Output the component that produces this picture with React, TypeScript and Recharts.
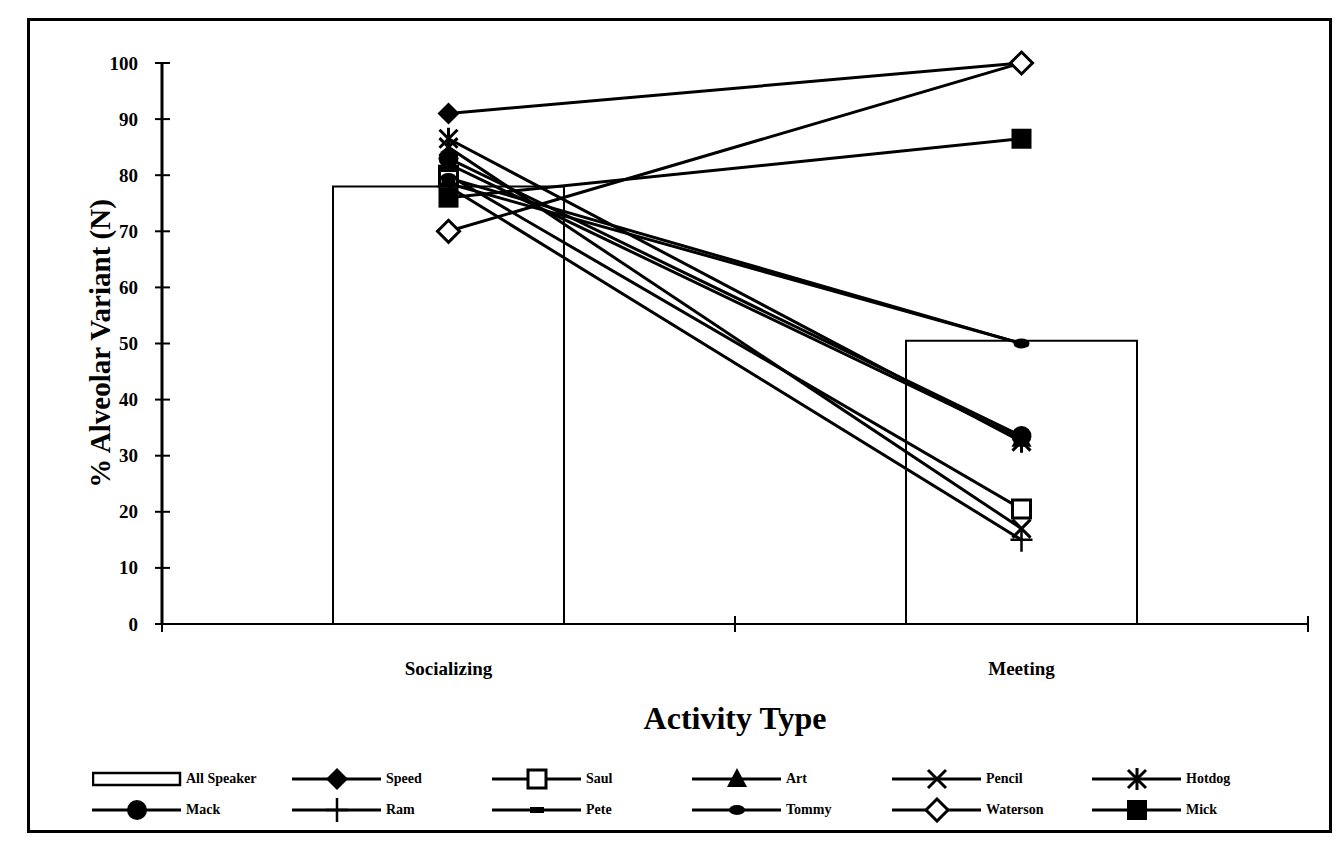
import React from "react";
import { ComposedChart, Bar, Line, XAxis, YAxis } from "recharts";

const categories = ["Socializing", "Meeting"];
const allSpeaker = [78, 50.5];

const speakers = ["Speed", "Saul", "Art", "Pencil", "Hotdog", "Mack", "Ram", "Pete", "Tommy", "Waterson", "Mick"];
const speed = [91, 100];
const saul = [80, 20.5];
const art = [82, 33];
const pencil = [85, 17];
const hotdog = [86.5, 32.5];
const mack = [83, 33.5];
const ram = [78, 15];
const pete = [78.5, 50];
const tommy = [79.5, 50];
const waterson = [70, 100];
const mick = [76, 86.5];

const yTicks = [0, 10, 20, 30, 40, 50, 60, 70, 80, 90, 100];

const seriesValues = [speed, saul, art, pencil, hotdog, mack, ram, pete, tommy, waterson, mick];
const markerKinds = [
  "diamondFilled", "squareOpen", "triangle", "x", "asterisk",
  "circle", "plus", "dash", "oval", "diamondOpen", "squareFilled",
];

const data = categories.map((c, i) => {
  const row: Record<string, any> = { category: c, allSpeaker: allSpeaker[i] };
  speakers.forEach((s, j) => (row[s] = seriesValues[j][i]));
  return row;
});

const FONT = "'Liberation Serif', 'Times New Roman', serif";
const W = 1338;
const H = 841;
const PLOT_LEFT = 162;
const PLOT_RIGHT = 1308;
const HALF_BAND = (PLOT_RIGHT - PLOT_LEFT) / categories.length / 2;

function Marker({ kind, cx, cy }: { kind: string; cx: number; cy: number }) {
  switch (kind) {
    case "diamondFilled":
      return <path d={`M${cx},${cy - 11}L${cx + 11},${cy}L${cx},${cy + 11}L${cx - 11},${cy}Z`} fill="#000" />;
    case "diamondOpen":
      return (
        <path d={`M${cx},${cy - 11}L${cx + 11},${cy}L${cx},${cy + 11}L${cx - 11},${cy}Z`}
          fill="#fff" stroke="#000" strokeWidth={3} />
      );
    case "squareOpen":
      return <rect x={cx - 9} y={cy - 9} width={18} height={18} fill="#fff" stroke="#000" strokeWidth={3} />;
    case "squareFilled":
      return <rect x={cx - 10} y={cy - 10} width={20} height={20} fill="#000" />;
    case "triangle":
      return <path d={`M${cx},${cy - 11}L${cx + 10},${cy + 8}L${cx - 10},${cy + 8}Z`} fill="#000" />;
    case "x":
      return (
        <path d={`M${cx - 9},${cy - 9}L${cx + 9},${cy + 9}M${cx + 9},${cy - 9}L${cx - 9},${cy + 9}`}
          stroke="#000" strokeWidth={3} fill="none" />
      );
    case "asterisk":
      return (
        <path
          d={`M${cx - 9},${cy - 9}L${cx + 9},${cy + 9}M${cx + 9},${cy - 9}L${cx - 9},${cy + 9}M${cx},${cy - 11}L${cx},${cy + 11}`}
          stroke="#000" strokeWidth={3} fill="none" />
      );
    case "circle":
      return <circle cx={cx} cy={cy} r={10} fill="#000" />;
    case "plus":
      return (
        <path d={`M${cx - 11},${cy}L${cx + 11},${cy}M${cx},${cy - 12}L${cx},${cy + 12}`}
          stroke="#000" strokeWidth={2.5} fill="none" />
      );
    case "dash":
      return <rect x={cx - 7} y={cy - 3} width={14} height={6} fill="#000" />;
    case "oval":
      return <ellipse cx={cx} cy={cy} rx={8} ry={5} fill="#000" />;
    default:
      return null;
  }
}

function YTick({ x, y, payload }: any) {
  return (
    <g>
      <line x1={x - 7} x2={x + 8} y1={y} y2={y} stroke="#000" strokeWidth={2} />
      <text x={x - 24} y={y} textAnchor="end" dominantBaseline="central"
        fontFamily={FONT} fontWeight="bold" fontSize={19} fill="#000">
        {payload.value}
      </text>
    </g>
  );
}

function XTick({ x, y, payload, index }: any) {
  return (
    <g>
      {index === 0 && <line x1={x - HALF_BAND} x2={x - HALF_BAND} y1={y - 8} y2={y + 8} stroke="#000" strokeWidth={2} />}
      <line x1={x + HALF_BAND} x2={x + HALF_BAND} y1={y - 8} y2={y + 8} stroke="#000" strokeWidth={2} />
      <text x={x} y={y + 44} textAnchor="middle" dominantBaseline="central"
        fontFamily={FONT} fontWeight="bold" fontSize={19} fill="#000">
        {payload.value}
      </text>
    </g>
  );
}

function LegendItem({ name, kind }: { name: string; kind: string | null }) {
  return (
    <div style={{ display: "flex", alignItems: "center", height: 31 }}>
      <svg width={90} height={26}>
        {kind === null ? (
          <rect x={1} y={7} width={87} height={12} fill="#fff" stroke="#000" strokeWidth={2.5} />
        ) : (
          <>
            <line x1={0} x2={89} y1={13} y2={13} stroke="#000" strokeWidth={3} />
            <Marker kind={kind} cx={45} cy={13} />
          </>
        )}
      </svg>
      <span style={{ fontFamily: FONT, fontWeight: "bold", fontSize: 14, marginLeft: 4, color: "#000" }}>{name}</span>
    </div>
  );
}

export default function App() {
  const legendNames = ["All Speaker", ...speakers];
  const legendKinds: (string | null)[] = [null, ...markerKinds];
  return (
    <div style={{ position: "absolute", left: 0, top: 0, width: W, height: H, background: "#fff" }}>
      <ComposedChart width={W} height={H} data={data} margin={{ top: 63, right: 30, left: 102, bottom: 177 }}>
        <XAxis
          dataKey="category"
          axisLine={{ stroke: "#000", strokeWidth: 2 }}
          tickLine={false}
          tickSize={0}
          tickMargin={0}
          interval={0}
          height={40}
          tick={<XTick />}
          label={{
            content: ({ viewBox }: any) => (
              <text x={viewBox.x + viewBox.width / 2} y={viewBox.y + 94} textAnchor="middle"
                dominantBaseline="central" fontFamily={FONT} fontWeight="bold" fontSize={32} fill="#000">
                Activity Type
              </text>
            ),
          }}
        />
        <YAxis
          domain={[0, 100]}
          ticks={yTicks}
          width={60}
          axisLine={{ stroke: "#000", strokeWidth: 3 }}
          tickLine={false}
          tickSize={0}
          tickMargin={0}
          tick={<YTick />}
          label={{
            content: ({ viewBox }: any) => {
              const cx = viewBox.x - 2;
              const cy = viewBox.y + viewBox.height / 2;
              return (
                <text x={cx} y={cy} transform={`rotate(-90 ${cx} ${cy})`} textAnchor="middle"
                  dominantBaseline="central" fontFamily={FONT} fontWeight="bold" fontSize={29} fill="#000">
                  % Alveolar Variant (N)
                </text>
              );
            },
          }}
        />
        <Bar dataKey="allSpeaker" fill="#fff" stroke="#000" strokeWidth={2} barSize={231} isAnimationActive={false} />
        {speakers.map((s, j) => (
          <Line
            key={s}
            dataKey={s}
            stroke="#000"
            strokeWidth={3}
            isAnimationActive={false}
            activeDot={false}
            dot={(p: any) => (
              <g key={`${s}-${p.index}`}>
                <Marker kind={markerKinds[j]} cx={p.cx} cy={p.cy} />
              </g>
            )}
          />
        ))}
      </ComposedChart>
      <div style={{
        position: "absolute", left: 92, top: 763,
        display: "grid", gridTemplateColumns: "repeat(6, 200px)",
      }}>
        {legendNames.map((n, i) => (
          <LegendItem key={n} name={n} kind={legendKinds[i]} />
        ))}
      </div>
      <div style={{
        position: "absolute", left: 27, top: 18, width: 1305, height: 815,
        border: "3px solid #000", boxSizing: "border-box", pointerEvents: "none",
      }} />
    </div>
  );
}
